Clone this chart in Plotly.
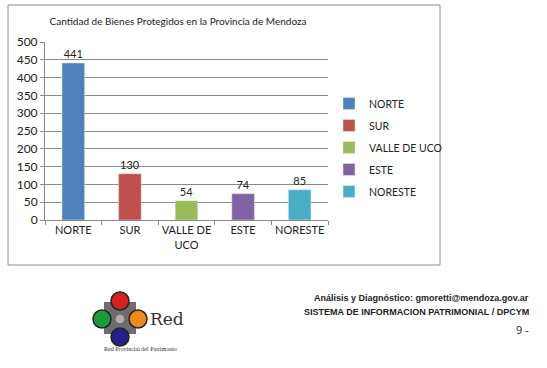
import plotly.graph_objects as go

categories = ["NORTE", "SUR", "VALLE DE<br>UCO", "ESTE", "NORESTE"]
legend_names = ["NORTE", "SUR", "VALLE DE UCO", "ESTE", "NORESTE"]
values = [441, 130, 54, 74, 85]
colors = ["#4F81BD", "#C0504D", "#9BBB59", "#8064A2", "#4BACC6"]
y_ticks = [0, 50, 100, 150, 200, 250, 300, 350, 400, 450, 500]

W, H = 547, 368
def px(x): return x / W
def py(y): return 1 - y / H

FONT = "Lato, Open Sans, sans-serif"

fig = go.Figure()
for cat, name, v, c in zip(categories, legend_names, values, colors):
    fig.add_trace(go.Bar(
        x=[cat], y=[v], name=name, marker_color=c, width=0.4,
        text=[str(v)], textposition="outside", cliponaxis=False,
        textfont=dict(size=11, color="#222", family=FONT),
        legendgroup=name,
    ))

fig.update_layout(
    width=W, height=H,
    margin=dict(l=0, r=0, t=0, b=0),
    paper_bgcolor="white", plot_bgcolor="white",
    barmode="overlay",
    font=dict(family=FONT, size=11, color="#222"),
    title=dict(text="Cantidad de Bienes Protegidos en la Provincia de Mendoza",
               x=px(178), y=py(21), xanchor="center", yanchor="middle",
               font=dict(size=10, color="#222", family=FONT)),
    xaxis=dict(domain=[px(45), px(328)], categoryorder="array", categoryarray=categories,
               showline=True, linecolor="#888", ticks="outside", tickson="boundaries",
               ticklen=4, tickcolor="#888", showgrid=False, tickangle=0, automargin=False,
               tickfont=dict(size=11, color="#222", family=FONT)),
    yaxis=dict(domain=[py(220), py(42)], range=[0, 500], tickvals=y_ticks,
               showline=True, linecolor="#888", ticks="outside", ticklen=4, tickcolor="#888",
               showgrid=True, gridcolor="#8a8a8a", gridwidth=1, zeroline=False, automargin=False,
               tickfont=dict(size=12, color="#222", family=FONT)),
    legend=dict(x=px(329), y=py(89), xanchor="left", yanchor="top",
                font=dict(size=10.5, color="#222", family=FONT),
                traceorder="grouped", tracegroupgap=3, itemwidth=30,
                bgcolor="rgba(0,0,0,0)"),
    showlegend=True,
)

shapes = [
    # chart frame
    dict(type="rect", xref="paper", yref="paper", x0=px(8), x1=px(440), y0=py(265), y1=py(5),
         line=dict(color="#8c8c8c", width=1), layer="below"),
    # logo square
    dict(type="rect", xref="paper", yref="paper", x0=px(104), x1=px(136), y0=py(334), y1=py(302),
         fillcolor="#6d6d6d", line=dict(width=0)),
]
def circ(cx, cy, r, fill, line="#222"):
    return dict(type="circle", xref="paper", yref="paper",
                x0=px(cx - r), x1=px(cx + r), y0=py(cy + r), y1=py(cy - r),
                fillcolor=fill, line=dict(color=line, width=1.5))
shapes += [
    circ(120, 301, 9, "#d42020"),
    circ(102, 319, 9, "#1e9a3a"),
    circ(138, 319, 9, "#f08a1c"),
    circ(120, 337, 9, "#24208a"),
    circ(120, 319, 3.5, "#b0b0b0", line="#b0b0b0"),
]
fig.update_layout(shapes=shapes)

FOOT = "Liberation Sans Narrow, Liberation Sans, Arial, sans-serif"
annotations = [
    dict(text="Red", x=px(148), y=py(319), xref="paper", yref="paper", xanchor="left", yanchor="middle",
         showarrow=False, font=dict(family="DejaVu Serif, serif", size=17, color="#333")),
    dict(text="Red Provincial del Patrimonio", x=px(140), y=py(349), xref="paper", yref="paper",
         xanchor="center", yanchor="middle", showarrow=False,
         font=dict(family="Liberation Serif, serif", size=6, color="#333")),
    dict(text="<b>Análisis y Diagnóstico: gmoretti@mendoza.gov.ar</b>", x=px(531), y=py(298),
         xref="paper", yref="paper", xanchor="right", yanchor="middle", showarrow=False,
         font=dict(family=FOOT, size=9, color="#222")),
    dict(text="<b>SISTEMA DE INFORMACION PATRIMONIAL / DPCYM</b>", x=px(531), y=py(312),
         xref="paper", yref="paper", xanchor="right", yanchor="middle", showarrow=False,
         font=dict(family=FOOT, size=9, color="#222")),
    dict(text="9 -", x=px(531), y=py(329), xref="paper", yref="paper", xanchor="right", yanchor="middle",
         showarrow=False, font=dict(family="Open Sans, sans-serif", size=11, color="#222")),
]
fig.update_layout(annotations=annotations)

fig.write_html("out.html", config={"displayModeBar": False},
               post_script="document.body.style.margin='0';document.body.style.overflow='hidden';")
